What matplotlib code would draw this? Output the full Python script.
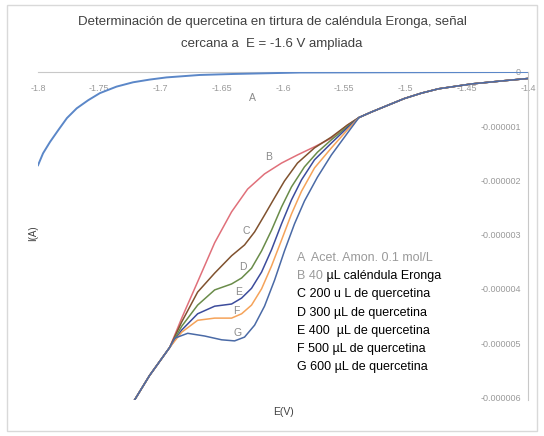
import numpy as np
import matplotlib.pyplot as plt

plt.rcParams['font.family'] = ['Liberation Sans', 'DejaVu Sans']

# potencial (V) y corriente (uA)
E_A = [-1.800, -1.7959, -1.7902, -1.7834, -1.7764, -1.7684, -1.7590, -1.7495,
       -1.7359, -1.7224, -1.7088, -1.6951, -1.6680, -1.6411, -1.586, -1.500,
       -1.400]
I_A = [-1.72, -1.50, -1.29, -1.07, -0.85, -0.67, -0.52, -0.39,
       -0.27, -0.19, -0.14, -0.10, -0.055, -0.037, -0.01, -0.005, 0.0]

# tramo comun inicial y final de las curvas B-G
E_head = [-1.722, -1.709, -1.6925]
I_head = [-6.08, -5.60, -5.08]
E_tail = [-1.538, -1.528, -1.514, -1.501, -1.487, -1.473, -1.446, -1.419, -1.400]
I_tail = [-0.84, -0.74, -0.61, -0.49, -0.39, -0.31, -0.22, -0.16, -0.12]

E_B = [-1.6827, -1.6697, -1.6558, -1.6420, -1.6289, -1.6151, -1.6012, -1.5882,
       -1.5743, -1.5605, -1.5475]
I_B = [-4.54, -3.87, -3.15, -2.58, -2.16, -1.88, -1.68, -1.53,
       -1.38, -1.22, -0.98]

E_C = [-1.6827, -1.6697, -1.6558, -1.6420, -1.6314, -1.6232, -1.6151, -1.6069,
       -1.5988, -1.5882, -1.5743, -1.5605, -1.5475]
I_C = [-4.61, -4.06, -3.71, -3.39, -3.19, -2.95, -2.64, -2.32,
       -2.01, -1.68, -1.40, -1.20, -0.98]

E_D = [-1.6827, -1.6697, -1.6558, -1.6420, -1.6338, -1.6257, -1.6175, -1.6094,
       -1.6012, -1.5931, -1.5825, -1.5719, -1.5605, -1.5475]
I_D = [-4.69, -4.30, -4.02, -3.91, -3.80, -3.62, -3.30, -2.92,
       -2.49, -2.12, -1.75, -1.48, -1.25, -1.01]

E_E = [-1.6827, -1.6697, -1.6558, -1.6420, -1.6338, -1.6257, -1.6175, -1.6094,
       -1.6012, -1.5931, -1.5849, -1.5743, -1.5605, -1.5475]
I_E = [-4.76, -4.46, -4.32, -4.28, -4.17, -3.99, -3.69, -3.28,
       -2.80, -2.36, -1.99, -1.62, -1.31, -1.03]

E_F = [-1.6827, -1.6697, -1.6558, -1.6420, -1.6338, -1.6257, -1.6175, -1.6094,
       -1.6012, -1.5931, -1.5849, -1.5743, -1.5605, -1.5475]
I_F = [-4.80, -4.58, -4.54, -4.54, -4.46, -4.30, -4.00, -3.58,
       -3.10, -2.62, -2.20, -1.77, -1.40, -1.07]

E_G = [-1.6884, -1.6778, -1.6640, -1.6501, -1.6395, -1.6314, -1.6232, -1.6151,
       -1.6069, -1.5988, -1.5906, -1.5825, -1.5719, -1.5605, -1.5475]
I_G = [-4.91, -4.82, -4.87, -4.94, -4.96, -4.89, -4.67, -4.32,
       -3.84, -3.30, -2.80, -2.38, -1.94, -1.53, -1.13]

curves = [("B", E_B, I_B, "#e0707a"), ("C", E_C, I_C, "#80522f"),
          ("D", E_D, I_D, "#6a8c4a"), ("E", E_E, I_E, "#3c4c9c"),
          ("F", E_F, I_F, "#f5a35a"), ("G", E_G, I_G, "#4a6aa6")]

# posiciones de las letras sobre las curvas
letters = ["A", "B", "C", "D", "E", "F", "G"]
letter_E = [-1.625, -1.612, -1.630, -1.633, -1.636, -1.638, -1.637]
letter_I = [-0.48, -1.57, -2.93, -3.60, -4.06, -4.41, -4.82]

legend_lines = ["A  Acet. Amon. 0.1 mol/L", "B 40", "C 200 u L de quercetina",
                "D 300 \u00b5L de quercetina", "E 400  \u00b5L de quercetina",
                "F 500 \u00b5L de quercetina", "G 600 \u00b5L de quercetina"]

x_ticks = [-1.8, -1.75, -1.7, -1.65, -1.6, -1.55, -1.5, -1.45, -1.4]
y_ticks = [0, -1, -2, -3, -4, -5, -6]
y_labels = ["0", "-0.000001", "-0.000002", "-0.000003", "-0.000004",
            "-0.000005", "-0.000006"]

fig = plt.figure(figsize=(5.44, 4.36), dpi=100)
fig.patches.append(plt.Rectangle((0.012, 0.012), 0.976, 0.976,
                                 transform=fig.transFigure, fill=False,
                                 edgecolor="#d9d9d9", linewidth=1.0))
ax = fig.add_axes([0.0699, 0.0826, 0.9007, 0.7523])

ax.plot(E_A, np.array(I_A) * 1e-6, color="#5b87c8", linewidth=1.4)
for name, e, i, col in curves:
    ee = np.concatenate([E_head, e, E_tail])
    ii = np.concatenate([I_head, i, I_tail]) * 1e-6
    ax.plot(ee, ii, color=col, linewidth=1.1)

ax.set_xlim(-1.8, -1.4)
ax.set_ylim(-6.05e-6, 0)

for s in ["top", "right"]:
    ax.spines[s].set_visible(False)
ax.spines["bottom"].set_position(("data", 0))
ax.spines["left"].set_position(("data", -1.4))
ax.spines["bottom"].set_color("#c8c8c8")
ax.spines["left"].set_color("#c8c8c8")
ax.spines["bottom"].set_zorder(0)

ax.set_xticks(x_ticks)
ax.set_xticklabels(["%g" % t for t in x_ticks])
ax.set_yticks(np.array(y_ticks) * 1e-6)
ax.set_yticklabels(y_labels)
ax.tick_params(axis="x", length=0, pad=9, labelsize=6.5, labelcolor="#9a9a9a")
ax.tick_params(axis="y", length=0, pad=5, labelsize=6.5, labelcolor="#9a9a9a")

for k, lab in enumerate(letters):
    ax.text(letter_E[k], letter_I[k] * 1e-6, lab, fontsize=7.5,
            color="#8a8a8a", ha="center", va="center")

fig.text(0.5, 0.949, "Determinación de quercetina en tirtura de caléndula Eronga, señal",
         ha="center", va="center", fontsize=9.5, color="#404040")
fig.text(0.5, 0.899, "cercana a  E = -1.6 V ampliada",
         ha="center", va="center", fontsize=9.5, color="#404040")
fig.text(0.061, 0.465, "I(A)", rotation=90, ha="center", va="center",
         fontsize=7, color="#404040")
fig.text(0.522, 0.055, "E(V)", ha="center", va="center",
         fontsize=7.5, color="#404040")

leg_y = 1 - 258 / 436
for k, line in enumerate(legend_lines):
    col = "#9a9a9a" if k < 2 else "black"
    t = fig.text(0.546, leg_y - k * 18.2 / 436, line, ha="left", va="center",
                 fontsize=9, color=col)
    if k == 1:
        ax.annotate(" \u00b5L caléndula Eronga", xy=(1, 0.5), xycoords=t,
                    ha="left", va="center", fontsize=9, color="black")

fig.savefig("out.png", dpi=100)
